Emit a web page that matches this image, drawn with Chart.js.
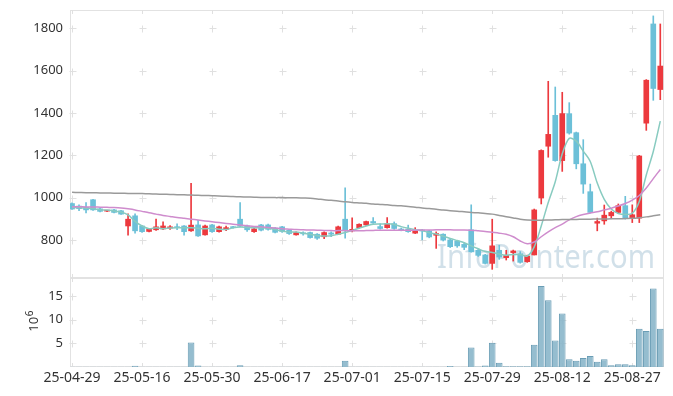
<!DOCTYPE html>
<html><head><meta charset="utf-8">
<script src="https://cdn.jsdelivr.net/npm/chart.js@4.4.1/dist/chart.umd.min.js"></script>
<style>
html,body{margin:0;padding:0;background:#fff;}
#wrap{position:relative;width:673px;height:396px;overflow:hidden;}
canvas{position:absolute;left:0;}
#c1{top:0;} #c2{top:278px;}
</style></head><body>
<div id="wrap">
<canvas id="c1" width="673" height="278"></canvas>
<canvas id="c2" width="673" height="118"></canvas>
</div>
<script>
const dates = ["25-04-29","25-04-30","25-05-02","25-05-07","25-05-08","25-05-09","25-05-12","25-05-13","25-05-14","25-05-15",
"25-05-16","25-05-19","25-05-20","25-05-21","25-05-22","25-05-23","25-05-26","25-05-27","25-05-28","25-05-29",
"25-05-30","25-06-02","25-06-04","25-06-05","25-06-09","25-06-10","25-06-11","25-06-12","25-06-13","25-06-16",
"25-06-17","25-06-18","25-06-19","25-06-20","25-06-23","25-06-24","25-06-25","25-06-26","25-06-27","25-06-30",
"25-07-01","25-07-02","25-07-03","25-07-04","25-07-07","25-07-08","25-07-09","25-07-10","25-07-11","25-07-14",
"25-07-15","25-07-16","25-07-17","25-07-18","25-07-21","25-07-22","25-07-23","25-07-24","25-07-25","25-07-28",
"25-07-29","25-07-30","25-07-31","25-08-01","25-08-04","25-08-05","25-08-06","25-08-07","25-08-08","25-08-11",
"25-08-12","25-08-13","25-08-14","25-08-18","25-08-19","25-08-20","25-08-21","25-08-22","25-08-25","25-08-26",
"25-08-27","25-08-28","25-08-29","25-09-01","25-09-02"];

const openP = [972,960,954,990,947,936,942,938,866,914, 866,840,848,852,856,860,866,843,871,824,
871,839,850,860,898,866,839,871,871,856, 862,846,824,832,835,827,815,833,827,898,
843,858,871,887,863,858,877,851,851,832, 846,843,822,827,800,795,779,848,751,729,
689,751,716,740,735,697,729,998,1243,1389, 1175,1397,1307,1160,1028,879,890,914,930,962,
903,903,1352,1821,1511];
const highP = [975,966,977,992,950,940,945,940,923,923, 868,855,898,885,868,876,868,1067,893,870,
874,865,866,864,977,870,856,874,875,858, 864,848,838,838,837,830,838,838,866,1046,
905,876,889,906,876,906,885,856,870,858, 850,845,838,829,803,798,786,966,755,732,
898,775,751,752,745,728,946,1226,1550,1523, 1498,1449,1310,1274,1064,903,965,936,970,1006,
966,1200,1558,1859,1821];
const lowP = [944,938,928,940,932,933,928,920,822,832, 836,838,845,848,850,848,822,840,816,822,
836,837,844,855,862,840,836,843,846,833, 836,826,822,822,808,802,806,815,825,808,
838,855,869,878,851,855,850,843,836,830, 800,810,760,795,764,765,754,742,722,686,
661,708,705,700,690,694,729,970,1191,1172, 1124,1300,1136,1020,927,843,874,900,925,898,
882,882,1318,1460,1463];
const closeP = [946,948,942,942,935,938,930,922,898,843, 839,851,862,866,862,858,839,870,819,866,
839,862,858,858,865,848,852,846,850,836, 840,830,835,829,811,808,835,827,862,843,
850,874,887,880,854,877,854,847,839,843, 842,814,830,799,768,772,765,744,727,689,
772,719,727,748,694,724,942,1223,1299,1175, 1397,1305,1160,1064,930,887,917,930,962,903,
919,1197,1555,1516,1622];
// volume in millions of shares
const volume = [0.05,0.05,0.05,0.05,0.05,0.05,0.05,0.05,0.05,0.25, 0.05,0.05,0.05,0.05,0.05,0.05,0.05,5.2,0.3,0.05,
0.05,0.05,0.05,0.05,0.35,0.05,0.05,0.05,0.05,0.05, 0.05,0.05,0.05,0.05,0.05,0.05,0.05,0.05,0.05,1.3,
0.05,0.05,0.05,0.05,0.05,0.05,0.05,0.05,0.05,0.05, 0.05,0.05,0.05,0.05,0.2,0.05,0.05,4.1,0.1,0.3,
5.1,0.9,0.15,0.15,0.15,0.15,4.7,17.1,14.1,5.6, 11.3,1.65,1.3,1.9,2.3,1.1,1.65,0.35,0.6,0.6,
0.35,8.1,7.6,16.6,8.1];
const maShort = [953,952,950,948,943,941,937,932,918,888, 866,853,858,853,856,858,857,858,855,853,
855,851,849,857,861,859,857,858,855,849, 841,838,837,832,827,820,819,820,827,835,
845,855,866,874,875,876,873,863,855,848, 845,834,828,818,807,797,787,772,758,745,
741,733,728,731,731,724,767,866,977,1075, 1207,1280,1267,1220,1171,1069,992,946,925,920,
926,982,1107,1218,1362];
const maMid = [957,957,956,956,955,954,953,951,947,942, 935,928,922,916,911,906,902,898,894,890,
886,882,878,874,870,867,864,862,859,856, 853,851,849,848,847,846,845,844,844,844,
843,843,844,845,846,846,846,846,846,846, 847,847,848,848,848,847,847,846,843,840,
836,832,827,815,795,782,790,815,838,858, 875,895,910,920,927,933,942,950,960,972,
988,1010,1045,1090,1133];
const maLong = [1025,1024,1023,1023,1022,1022,1021,1021,1020,1020, 1019,1018,1017,1016,1015,1014,1013,1012,1011,1010,
1009,1008,1006,1005,1004,1003,1002,1001,1001,1000, 1000,999,999,998,997,994,990,987,984,980,
977,975,973,970,968,966,963,961,958,955, 951,948,945,941,938,936,933,930,928,925,
922,916,910,904,898,894,893,893,894,895, 896,897,897,898,898,899,899,900,900,901,
902,905,909,914,919];
const priceTicks = [800,1000,1200,1400,1600,1800];
const volTicks = [5,10,15];
const dateTickIdx = [0,10,20,30,40,50,60,70,80];

const RED = '#ec393e', BLUE = '#6cc0d8';
const candleColors = closeP.map((c,i)=> c >= openP[i] ? RED : BLUE);
Chart.defaults.font.family = '"Noto Sans", "DejaVu Sans", sans-serif';
Chart.defaults.font.size = 13;
Chart.defaults.color = '#333';

function decor(yTicks, extra){
  return {
    id: 'decor',
    beforeDatasetsDraw(chart){
      const {ctx, chartArea:a, scales:{x,y}} = chart;
      ctx.save();
      if (extra) extra(ctx, a);
      ctx.strokeStyle = '#e2e2e2'; ctx.lineWidth = 1;
      ctx.strokeRect(a.left+0.5, a.top+0.5, a.right-a.left-1, a.bottom-a.top-1);
      ctx.strokeStyle = '#e0e0e0';
      ctx.beginPath();
      for (const t of dateTickIdx){
        const px = Math.round(x.getPixelForValue(t))+0.5;
        for (const v of yTicks){
          const py = Math.round(y.getPixelForValue(v))+0.5;
          ctx.moveTo(px-3,py); ctx.lineTo(px+4,py);
          ctx.moveTo(px,py-3); ctx.lineTo(px,py+4);
        }
        ctx.moveTo(px, a.bottom-4); ctx.lineTo(px, a.bottom);
        ctx.moveTo(px, a.top); ctx.lineTo(px, a.top+4);
      }
      ctx.stroke();
      ctx.restore();
    }
  };
}

function xScale(extra){
  return Object.assign({
    type: 'linear', min: -0.29, max: 84.53, offset: false,
    grid: {display:false, drawTicks:false}, border: {display:false},
    afterFit(s){ s.paddingLeft = 0; s.paddingRight = 0; if (extra && extra.h) s.height = extra.h; }
  }, extra ? extra.opts : {});
}
function yScale(min, max, ticks){
  return { min, max, grid:{display:false, drawTicks:false}, border:{display:false},
    afterFit(s){ s.width = 70; s.paddingTop = 0; s.paddingBottom = 0; },
    afterBuildTicks(s){ s.ticks = ticks.map(v=>({value:v})); },
    ticks:{padding:7, color:'#333', callback:(v)=>String(v)} };
}

new Chart(document.getElementById('c1'), {
  type: 'bar',
  data: { datasets: [
    { type:'line', data: maLong.map((v,i)=>({x:i,y:v})), borderColor:'#9a9a9a', borderWidth:1.5, pointRadius:0, tension:0.3, order:0 },
    { type:'line', data: maMid.map((v,i)=>({x:i,y:v})), borderColor:'#cf8ccd', borderWidth:1.5, pointRadius:0, tension:0.3, order:0 },
    { type:'line', data: maShort.map((v,i)=>({x:i,y:v})), borderColor:'#88cbc0', borderWidth:1.5, pointRadius:0, tension:0.3, order:0 },
    { data: lowP.map((v,i)=>({x:i,y:[v, highP[i]]})), backgroundColor: candleColors, barThickness:1, grouped:false, order:2 },
    { data: openP.map((v,i)=>({x:i,y:[v, closeP[i]]})), backgroundColor: candleColors, barThickness:5, minBarLength:1, grouped:false, order:1 }
  ]},
  options: {
    responsive:false, animation:false, devicePixelRatio:1,
    layout:{padding:{top:10,right:9,left:0,bottom:0}},
    plugins:{legend:{display:false}, tooltip:{enabled:false}},
    scales:{
      x: Object.assign(xScale(), {display:false}),
      y: yScale(620, 1887, priceTicks)
    }
  },
  plugins:[decor(priceTicks, (ctx,a)=>{
    ctx.save();
    ctx.font = '32px "Noto Sans"';
    const w = ctx.measureText('InfoPointer.com').width;
    ctx.translate(437, 268);
    ctx.scale(218/w, 1);
    ctx.fillStyle = 'rgba(178,203,218,0.6)';
    ctx.fillText('InfoPointer.com', 0, 0);
    ctx.restore();
  })]
});

new Chart(document.getElementById('c2'), {
  type: 'bar',
  data: { datasets: [
    { data: volume.map((v,i)=>({x:i,y:v})), backgroundColor:'rgba(138,182,202,0.9)', borderColor:'#6a9db5', borderWidth:1, barPercentage:0.95, categoryPercentage:1 }
  ]},
  options: {
    responsive:false, animation:false, devicePixelRatio:1,
    layout:{padding:{top:0,right:9,left:0,bottom:0}},
    plugins:{legend:{display:false}, tooltip:{enabled:false}},
    scales:{
      x: xScale({h:29, opts:{
        afterBuildTicks(s){ s.ticks = dateTickIdx.map(v=>({value:v})); },
        ticks:{padding:3, maxRotation:0, autoSkip:false, color:'#333', font:{size:14}, callback:(v)=>dates[v]}
      }}),
      y: yScale(0, 18.8, volTicks)
    }
  },
  plugins:[decor(volTicks), {
    id:'unit',
    afterDraw(chart){
      const ctx = chart.ctx;
      ctx.save();
      ctx.translate(38, 53.7);
      ctx.rotate(-Math.PI/2);
      ctx.fillStyle = '#333';
      ctx.font = '13px "Noto Sans"';
      ctx.textBaseline = 'alphabetic';
      ctx.fillText('10', 0, 0);
      const w = ctx.measureText('10').width;
      ctx.font = '10px "Noto Sans"';
      ctx.fillText('6', w + 0.5, -5);
      ctx.restore();
    }
  }]
});
</script>
</body></html>
